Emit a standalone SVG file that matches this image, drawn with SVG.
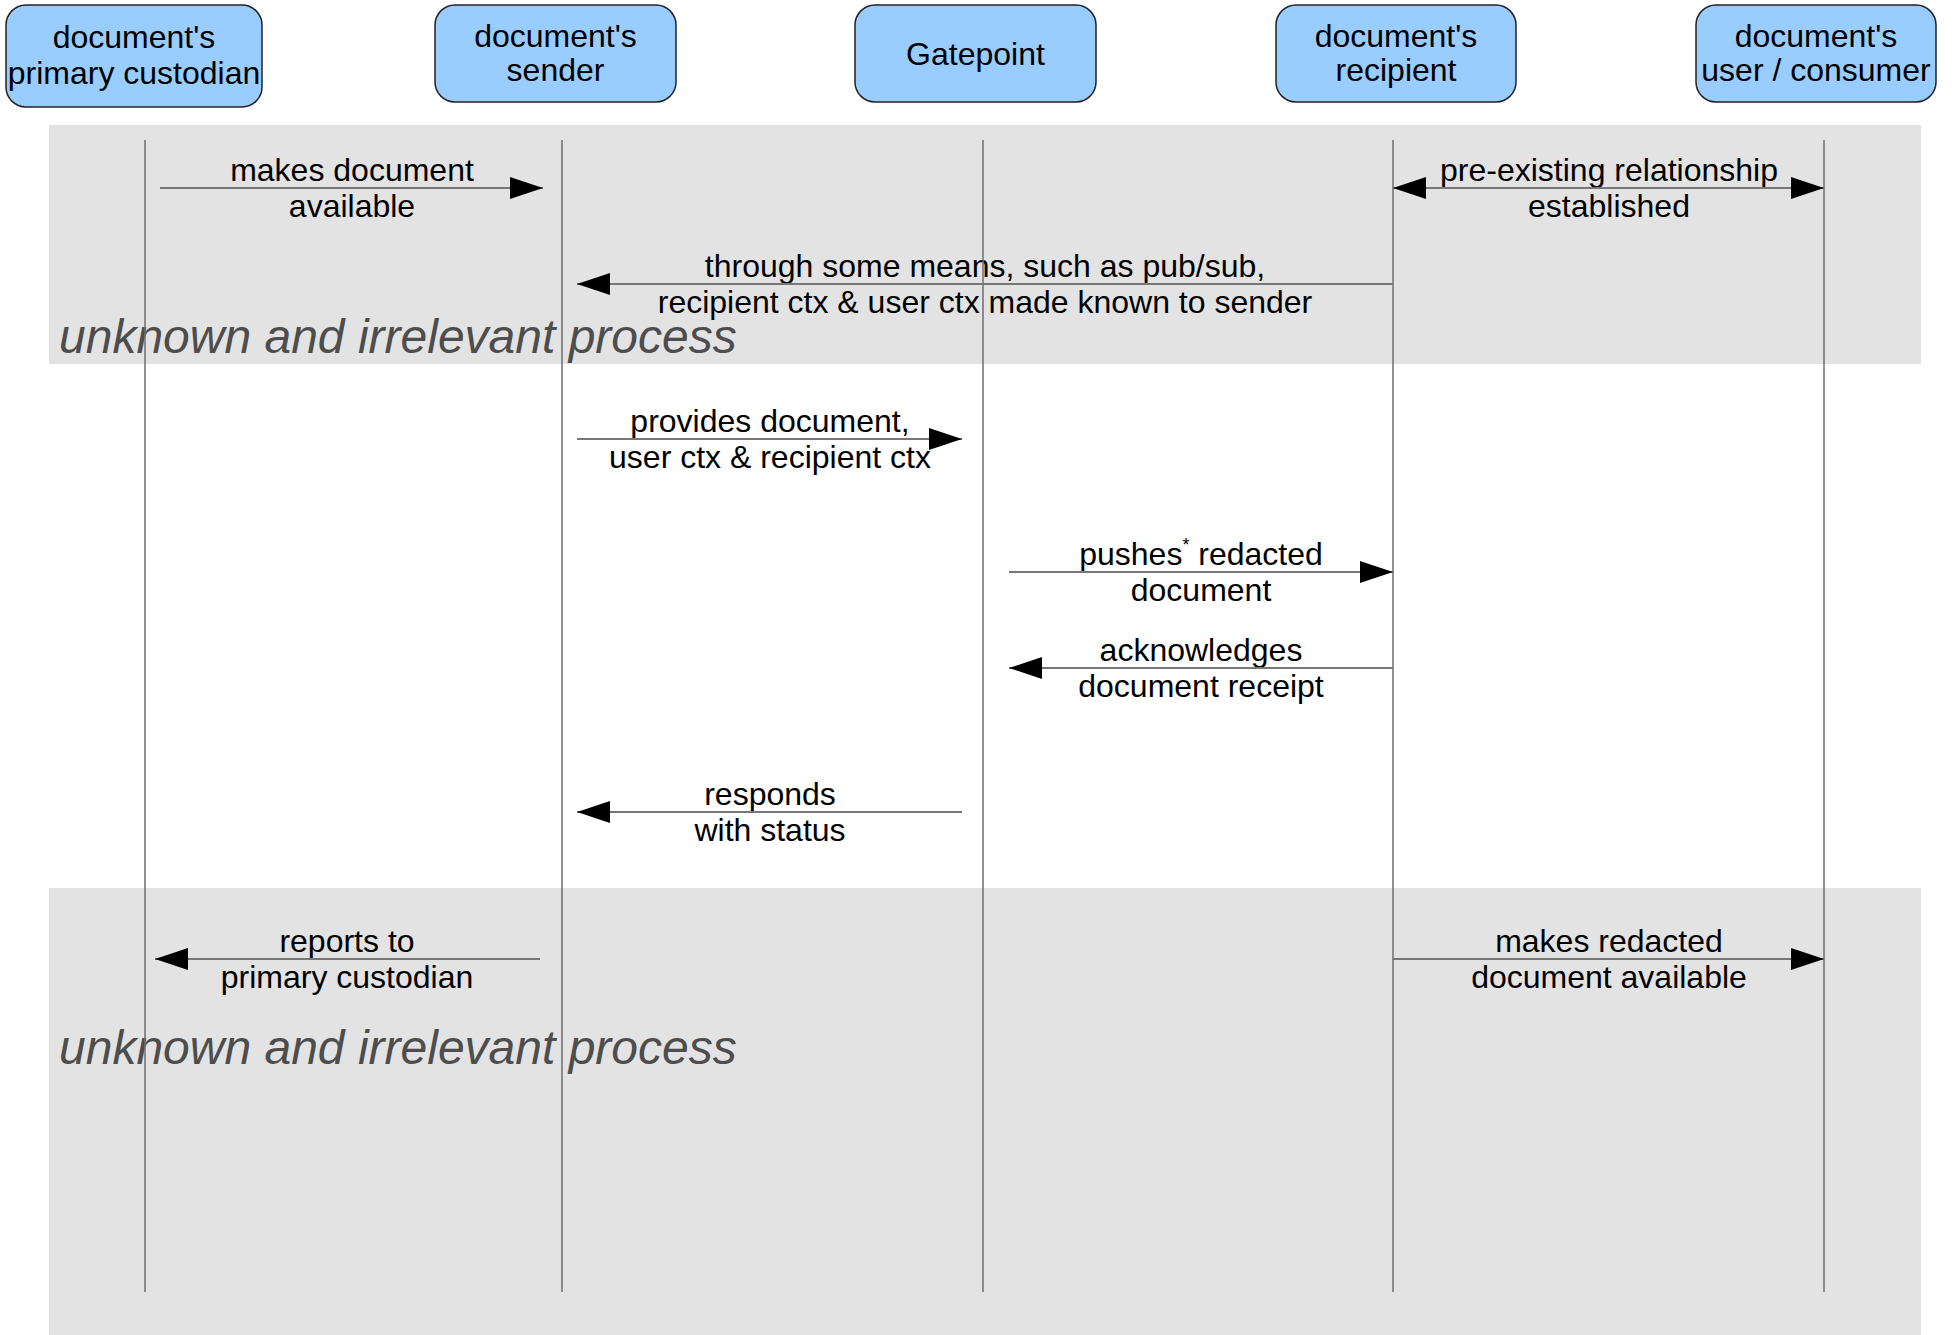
<svg xmlns="http://www.w3.org/2000/svg" width="1955" height="1335" viewBox="0 0 1955 1335">
<style>
.node rect{fill:#99ccff;stroke:#222;stroke-width:1.5}
.node text,.lbl{font-family:"Liberation Sans",Arial,sans-serif;font-size:32px;fill:#000;text-anchor:middle}
.band{fill:#e3e3e3}
.proc{font-family:"Liberation Sans",Arial,sans-serif;font-size:48px;font-style:italic;fill:#4d4d4d}
.life{stroke:#6e6e6e;stroke-width:1.5;fill:none}
.msg{stroke:#777;stroke-width:2;fill:none}
</style>
<defs>
<marker id="ah" viewBox="0 0 33 22" refX="33" refY="11" markerWidth="33" markerHeight="22" markerUnits="userSpaceOnUse" orient="auto">
<path d="M0,0 L33,11 L0,22 Z" fill="#000"/>
</marker>
<marker id="ahs" viewBox="0 0 33 22" refX="0" refY="11" markerWidth="33" markerHeight="22" markerUnits="userSpaceOnUse" orient="auto">
<path d="M33,0 L0,11 L33,22 Z" fill="#000"/>
</marker>
</defs>
<rect width="1955" height="1335" fill="#fff"/>
<rect class="band" x="49" y="125" width="1872" height="239"/>
<rect class="band" x="49" y="888" width="1872" height="447"/>
<text class="proc" x="59" y="353">unknown and irrelevant process</text>
<text class="proc" x="59" y="1064">unknown and irrelevant process</text>

<g id="node-custodian" class="node">
<rect x="6" y="5" width="256" height="102" rx="20"/>
<text x="134" y="48">document's</text>
<text x="134" y="84">primary custodian</text>
</g>
<g id="node-sender" class="node">
<rect x="435" y="5" width="241" height="97" rx="20"/>
<text x="555.5" y="47">document's</text>
<text x="555.5" y="81">sender</text>
</g>
<g id="node-gatepoint" class="node">
<rect x="855" y="5" width="241" height="97" rx="20"/>
<text x="975.5" y="65">Gatepoint</text>
</g>
<g id="node-recipient" class="node">
<rect x="1276" y="5" width="240" height="97" rx="20"/>
<text x="1396" y="47">document's</text>
<text x="1396" y="81">recipient</text>
</g>
<g id="node-consumer" class="node">
<rect x="1696" y="5" width="240" height="97" rx="20"/>
<text x="1816" y="47">document's</text>
<text x="1816" y="81">user / consumer</text>
</g>

<g id="labels">
<text class="lbl" x="352" y="181">makes document</text>
<text class="lbl" x="352" y="217">available</text>
<text class="lbl" x="1609" y="181">pre-existing relationship</text>
<text class="lbl" x="1609" y="217">established</text>
<text class="lbl" x="985" y="277">through some means, such as pub/sub,</text>
<text class="lbl" x="985" y="313">recipient ctx &amp; user ctx made known to sender</text>
<text class="lbl" x="770" y="432">provides document,</text>
<text class="lbl" x="770" y="468">user ctx &amp; recipient ctx</text>
<text class="lbl" x="1201" y="565">pushes<tspan font-size="18" dy="-14">*</tspan><tspan dy="14"> redacted</tspan></text>
<text class="lbl" x="1201" y="601">document</text>
<text class="lbl" x="1201" y="661">acknowledges</text>
<text class="lbl" x="1201" y="697">document receipt</text>
<text class="lbl" x="770" y="805">responds</text>
<text class="lbl" x="770" y="841">with status</text>
<text class="lbl" x="347" y="952">reports to</text>
<text class="lbl" x="347" y="988">primary custodian</text>
<text class="lbl" x="1609" y="952">makes redacted</text>
<text class="lbl" x="1609" y="988">document available</text>
</g>

<g id="lifelines">
<line class="life" x1="145" y1="140" x2="145" y2="1292"/>
<line class="life" x1="562" y1="140" x2="562" y2="1292"/>
<line class="life" x1="983" y1="140" x2="983" y2="1292"/>
<line class="life" x1="1393" y1="140" x2="1393" y2="1292"/>
<line class="life" x1="1824" y1="140" x2="1824" y2="1292"/>
</g>

<g id="connectors">
<line class="msg" x1="160" y1="188" x2="543" y2="188" marker-end="url(#ah)"/>
<line class="msg" x1="1393" y1="188" x2="1824" y2="188" marker-start="url(#ahs)" marker-end="url(#ah)"/>
<line class="msg" x1="1393" y1="284" x2="577" y2="284" marker-end="url(#ah)"/>
<line class="msg" x1="577" y1="439" x2="962" y2="439" marker-end="url(#ah)"/>
<line class="msg" x1="1009" y1="572" x2="1393" y2="572" marker-end="url(#ah)"/>
<line class="msg" x1="1393" y1="668" x2="1009" y2="668" marker-end="url(#ah)"/>
<line class="msg" x1="962" y1="812" x2="577" y2="812" marker-end="url(#ah)"/>
<line class="msg" x1="540" y1="959" x2="155" y2="959" marker-end="url(#ah)"/>
<line class="msg" x1="1393" y1="959" x2="1824" y2="959" marker-end="url(#ah)"/>
</g>
</svg>
